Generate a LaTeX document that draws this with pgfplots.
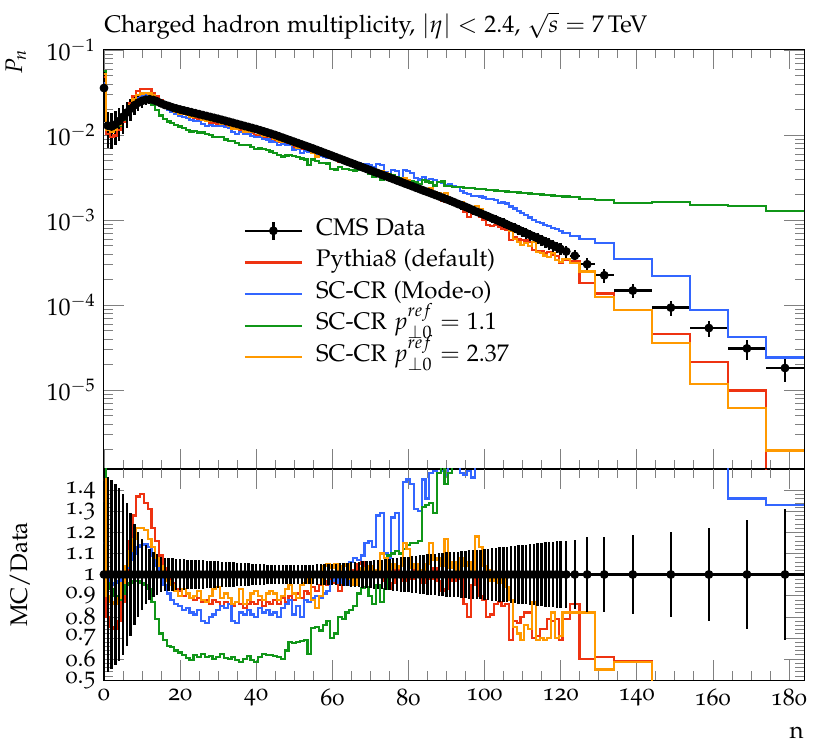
\documentclass[border=0pt,12pt]{standalone}
\usepackage[T1]{fontenc}
\usepackage[osf]{mathpazo}
\usepackage{pgfplots}
\usepackage{pgfplotstable}
\pgfplotsset{compat=1.18}

\definecolor{cred}{HTML}{EE3311}
\definecolor{cblue}{HTML}{3366FF}
\definecolor{cgreen}{HTML}{109618}
\definecolor{corange}{HTML}{FF9900}

% lo hi: bin edges, d: data P_n, e: relative data error,
% rr rb rg ro: MC/Data for Pythia8, Mode-0, pT0=1.1, pT0=2.37
\pgfplotstableread{
lo hi d e rr rb rg ro
-0.5 0.5 3.57e-2 0.60 1.35 1.15 1.60 1.45
0.5 1.5 1.29e-2 0.46 0.80 0.98 0.96 0.90
1.5 2.5 1.26e-2 0.45 0.75 0.95 0.93 0.87
2.5 3.5 1.33e-2 0.43 0.74 0.96 0.90 0.86
3.5 4.5 1.46e-2 0.41 0.78 0.97 0.88 0.89
4.5 5.5 1.64e-2 0.38 0.87 0.99 0.91 0.96
5.5 6.5 1.84e-2 0.34 1.00 1.03 0.95 1.04
6.5 7.5 2.04e-2 0.29 1.16 1.07 0.96 1.11
7.5 8.5 2.24e-2 0.24 1.28 1.10 0.97 1.17
8.5 9.5 2.40e-2 0.20 1.37 1.13 0.97 1.22
9.5 10.5 2.52e-2 0.17 1.38 1.14 0.96 1.22
10.5 11.5 2.60e-2 0.14 1.34 1.145 0.95 1.21
11.5 12.5 2.63e-2 0.12 1.31 1.13 0.93 1.17
12.5 13.5 2.58e-2 0.105 1.22 1.09 0.87 1.13
13.5 14.5 2.48e-2 0.095 1.16 1.04 0.79 1.08
14.5 15.5 2.36e-2 0.085 1.09 0.99 0.72 1.04
15.5 16.5 2.26e-2 0.080 1.03 0.95 0.69 1.00
16.5 17.5 2.19e-2 0.078 0.99 0.91 0.66 0.97
17.5 18.5 2.11e-2 0.076 0.96 0.88 0.655 0.95
18.5 19.5 2.05e-2 0.075 0.93 0.86 0.64 0.92
19.5 20.5 1.995e-2 0.074 0.92 0.85 0.63 0.90
20.5 21.5 1.945e-2 0.073 0.90 0.83 0.62 0.93
21.5 22.5 1.897e-2 0.071 0.91 0.84 0.605 0.91
22.5 23.5 1.849e-2 0.070 0.89 0.82 0.595 0.89
23.5 24.5 1.803e-2 0.069 0.88 0.81 0.62 0.90
24.5 25.5 1.758e-2 0.068 0.89 0.83 0.61 0.92
25.5 26.5 1.714e-2 0.067 0.87 0.78 0.625 0.88
26.5 27.5 1.671e-2 0.065 0.88 0.77 0.61 0.87
27.5 28.5 1.629e-2 0.064 0.86 0.80 0.615 0.90
28.5 29.5 1.589e-2 0.063 0.88 0.81 0.60 0.93
29.5 30.5 1.549e-2 0.062 0.87 0.83 0.61 0.94
30.5 31.5 1.507e-2 0.061 0.85 0.85 0.625 0.89
31.5 32.5 1.466e-2 0.059 0.87 0.84 0.605 0.91
32.5 33.5 1.426e-2 0.058 0.86 0.86 0.60 0.89
33.5 34.5 1.387e-2 0.057 0.85 0.78 0.61 0.86
34.5 35.5 1.349e-2 0.056 0.87 0.77 0.595 0.87
35.5 36.5 1.312e-2 0.055 0.86 0.82 0.585 0.93
36.5 37.5 1.276e-2 0.054 0.84 0.81 0.60 0.86
37.5 38.5 1.242e-2 0.053 0.86 0.83 0.615 0.88
38.5 39.5 1.208e-2 0.051 0.87 0.81 0.595 0.91
39.5 40.5 1.175e-2 0.050 0.86 0.80 0.585 0.92
40.5 41.5 1.138e-2 0.049 0.88 0.84 0.61 0.90
41.5 42.5 1.102e-2 0.048 0.85 0.82 0.625 0.88
42.5 43.5 1.067e-2 0.047 0.87 0.83 0.62 0.91
43.5 44.5 1.033e-2 0.046 0.86 0.81 0.62 0.92
44.5 45.5 1.000e-2 0.045 0.88 0.82 0.615 0.91
45.5 46.5 9.64e-3 0.045 0.86 0.80 0.61 0.88
46.5 47.5 9.29e-3 0.045 0.89 0.84 0.60 0.90
47.5 48.5 8.95e-3 0.045 0.87 0.86 0.64 0.93
48.5 49.5 8.63e-3 0.045 0.90 0.88 0.68 0.95
49.5 50.5 8.32e-3 0.045 0.88 0.81 0.675 0.91
50.5 51.5 8.02e-3 0.045 0.91 0.85 0.68 0.89
51.5 52.5 7.73e-3 0.046 0.89 0.80 0.685 0.95
52.5 53.5 7.45e-3 0.046 0.92 0.88 0.69 0.96
53.5 54.5 7.18e-3 0.047 0.91 0.87 0.625 0.98
54.5 55.5 6.92e-3 0.047 0.94 0.89 0.745 0.88
55.5 56.5 6.65e-3 0.048 0.92 0.90 0.75 0.84
56.5 57.5 6.40e-3 0.048 0.95 0.89 0.735 0.90
57.5 58.5 6.15e-3 0.049 0.97 0.91 0.76 1.04
58.5 59.5 5.92e-3 0.049 0.95 0.92 0.78 1.05
59.5 60.5 5.69e-3 0.050 0.98 0.97 0.70 1.03
60.5 61.5 5.47e-3 0.052 0.96 0.99 0.72 1.05
61.5 62.5 5.26e-3 0.053 0.92 0.96 0.80 1.02
62.5 63.5 5.06e-3 0.055 0.99 1.00 0.79 1.04
63.5 64.5 4.86e-3 0.056 1.01 0.95 0.82 1.05
64.5 65.5 4.68e-3 0.058 0.98 1.06 0.83 0.98
65.5 66.5 4.50e-3 0.059 1.02 1.08 0.85 0.95
66.5 67.5 4.33e-3 0.061 1.05 1.07 0.91 0.99
67.5 68.5 4.16e-3 0.062 1.06 1.09 0.935 1.03
68.5 69.5 4.00e-3 0.064 1.00 1.15 0.94 1.01
69.5 70.5 3.85e-3 0.065 1.03 1.16 0.90 1.04
70.5 71.5 3.70e-3 0.067 0.99 1.13 0.86 1.02
71.5 72.5 3.56e-3 0.069 1.02 1.28 0.95 1.00
72.5 73.5 3.42e-3 0.071 1.01 1.29 0.87 1.10
73.5 74.5 3.29e-3 0.073 0.97 1.10 0.93 1.08
74.5 75.5 3.16e-3 0.075 0.93 1.08 1.09 1.02
75.5 76.5 3.04e-3 0.077 0.96 1.27 1.10 1.05
76.5 77.5 2.92e-3 0.079 1.02 1.29 1.11 1.03
77.5 78.5 2.81e-3 0.081 1.00 1.10 1.10 1.04
78.5 79.5 2.70e-3 0.083 0.97 1.44 1.12 1.15
79.5 80.5 2.60e-3 0.085 1.01 1.45 1.14 1.12
80.5 81.5 2.50e-3 0.087 0.98 1.43 1.15 1.03
81.5 82.5 2.40e-3 0.089 1.03 1.31 1.15 1.05
82.5 83.5 2.31e-3 0.091 0.99 1.30 1.16 0.99
83.5 84.5 2.22e-3 0.093 0.96 1.45 1.32 1.02
84.5 85.5 2.14e-3 0.095 1.01 1.36 1.33 1.05
85.5 86.5 2.06e-3 0.097 0.98 1.48 1.34 1.15
86.5 87.5 1.98e-3 0.099 1.03 1.49 1.29 1.07
87.5 88.5 1.905e-3 0.101 0.97 1.48 1.48 1.08
88.5 89.5 1.83e-3 0.103 0.92 1.49 1.55 1.04
89.5 90.5 1.76e-3 0.105 0.93 1.47 1.43 1.17
90.5 91.5 1.69e-3 0.106 1.00 1.56 1.48 1.03
91.5 92.5 1.62e-3 0.108 0.97 1.53 1.52 1.06
92.5 93.5 1.55e-3 0.109 1.02 1.57 1.57 1.01
93.5 94.5 1.49e-3 0.111 0.98 1.48 1.63 1.08
94.5 95.5 1.43e-3 0.112 0.86 1.47 1.68 1.04
95.5 96.5 1.37e-3 0.114 0.80 1.49 1.74 1.06
96.5 97.5 1.31e-3 0.115 0.95 1.46 1.80 0.99
97.5 98.5 1.25e-3 0.117 0.99 1.55 1.86 1.18
98.5 99.5 1.20e-3 0.118 0.90 1.58 1.93 1.13
99.5 100.5 1.148e-3 0.120 0.88 1.60 2.00 1.04
100.5 101.5 1.10e-3 0.122 0.80 1.62 2.07 1.02
101.5 102.5 1.05e-3 0.124 0.81 1.68 2.14 0.97
102.5 103.5 1.007e-3 0.126 0.86 1.70 2.21 1.00
103.5 104.5 9.64e-4 0.128 0.87 1.66 2.29 0.96
104.5 105.5 9.23e-4 0.130 0.85 1.74 2.37 0.98
105.5 106.5 8.81e-4 0.132 0.86 1.78 2.46 0.94
106.5 107.5 8.41e-4 0.134 0.69 1.72 2.55 0.88
107.5 108.5 8.04e-4 0.136 0.78 1.70 2.65 0.75
108.5 109.5 7.67e-4 0.138 0.77 1.66 2.75 0.72
109.5 110.5 7.33e-4 0.140 0.80 1.64 2.85 0.69
110.5 111.5 7.00e-4 0.142 0.82 1.62 2.96 0.76
111.5 112.5 6.68e-4 0.144 0.82 1.60 3.07 0.74
112.5 113.5 6.38e-4 0.146 0.70 1.58 3.18 0.87
113.5 114.5 6.10e-4 0.148 0.71 1.56 3.30 0.69
114.5 115.5 5.82e-4 0.150 0.74 1.60 3.43 0.70
115.5 116.5 5.55e-4 0.152 0.74 1.58 3.56 0.69
116.5 117.5 5.28e-4 0.154 0.79 1.62 3.71 0.70
117.5 118.5 5.04e-4 0.156 0.78 1.60 3.85 0.82
118.5 119.5 4.80e-4 0.158 0.79 1.64 4.01 0.70
119.5 120.5 4.57e-4 0.160 0.69 1.62 4.17 0.71
120.5 122.5 4.27e-4 0.160 0.79 1.65 4.42 0.82
122.5 125 3.80e-4 0.165 0.86 1.70 4.90 0.82
125 129 3.02e-4 0.180 0.60 2.00 5.89 0.82
129 134 2.24e-4 0.180 0.61 2.40 7.67 0.55
134 144 1.48e-4 0.185 0.59 2.35 10.8 0.585
144 154 9.33e-5 0.200 0.49 2.37 17.4 0.38
154 164 5.37e-5 0.220 0.40 1.62 28.2 0.22
164 174 3.09e-5 0.260 0.32 1.36 47.3 0.20
174 184 1.82e-5 0.310 0.0001 1.33 70.2 0.107
184 184 1.82e-5 0.310 0.0001 1.33 70.2 0.107
}\mult

\pgfplotsset{
  rivet/.style={
    width=350pt, scale only axis,
    xmin=0, xmax=184,
    tick align=inside,
    major tick length=10pt, minor tick length=4.5pt,
    xtick={0,20,...,180}, minor x tick num=3,
    axis line style={line width=0.5pt},
  },
  mc/.style={const plot mark left, mark=none, line width=1.1pt,
    legend image code/.code={\draw[##1, line width=1.1pt] (0pt,0pt) -- (28.5pt,0pt);}},
  data/.style={black, mark=*, mark size=2pt, only marks,
    skip coords between index={130}{131},
    error bars/x dir=both, error bars/x explicit,
    error bars/y dir=both, error bars/y explicit,
    error bars/error mark=none,
    error bars/error bar style={line width=1.2pt, black}},
}

\begin{document}
\begin{tikzpicture}
\useasboundingbox (-52pt,-35pt) rectangle (363pt,340pt);

\begin{axis}[rivet,
  at={(0,105.5pt)}, anchor=south west, height=210pt,
  ymode=log, ymin=1.18e-6, ymax=0.1027,
  xticklabels={},
  title={Charged hadron multiplicity, $|\eta| < 2.4$, $\sqrt{s} = 7$\,TeV},
  title style={at={(0,1)}, anchor=base west, inner sep=0pt, yshift=2.35pt},
  ylabel={$P_n$},
  ylabel style={at={(axis description cs:-0.126,1)}, anchor=east, inner sep=0pt},
  legend cell align=left,
  legend style={draw=none, fill=none, at={(0.199,0.6057)}, anchor=north west,
    inner sep=0pt, column sep=6.5pt, row sep=0pt,
    nodes={inner sep=0pt, text height=10pt, text depth=5.8pt}},
]
\addplot[data,
  legend image code/.code={
    \draw[black, line width=1.2pt] (0pt,0pt) -- (28.5pt,0pt);
    \draw[black, line width=1.2pt] (14.25pt,-4.5pt) -- (14.25pt,4.5pt);
    \fill[black] (14.25pt,0pt) circle (2pt);}]
  table[x expr={0.5*(\thisrow{lo}+\thisrow{hi})}, y=d,
        x error expr={0.5*(\thisrow{hi}-\thisrow{lo})},
        y error expr={\thisrow{d}*\thisrow{e}}] {\mult};
\addlegendentry{CMS Data}
\addplot[mc, cred] table[x=lo, y expr={\thisrow{d}*\thisrow{rr}}] {\mult};
\addlegendentry{Pythia8 (default)}
\addplot[mc, cblue] table[x=lo, y expr={\thisrow{d}*\thisrow{rb}}] {\mult};
\addlegendentry{SC-CR (Mode-0)}
\addplot[mc, cgreen] table[x=lo, y expr={\thisrow{d}*\thisrow{rg}}] {\mult};
\addlegendentry{SC-CR $p_{\perp 0}^{ref} = 1.1$}
\addplot[mc, corange] table[x=lo, y expr={\thisrow{d}*\thisrow{ro}}] {\mult};
\addlegendentry{SC-CR $p_{\perp 0}^{ref} = 2.37$}
\end{axis}

\begin{axis}[rivet,
  at={(0,0)}, anchor=south west, height=105.5pt,
  ymin=0.5, ymax=1.5,
  ytick={0.5,0.6,0.7,0.8,0.9,1,1.1,1.2,1.3,1.4}, minor y tick num=4,
  /pgf/number format/fixed,
  /pgf/number format/assume math mode=true,
  xlabel={n},
  xlabel style={at={(axis description cs:1,0)}, anchor=base east, inner sep=0pt, yshift=-29pt},
  ylabel={MC/Data},
  ylabel style={at={(axis description cs:-0.12,0.5)}, anchor=center},
]
\addplot[mc, cred] table[x=lo, y=rr] {\mult};
\addplot[mc, cblue] table[x=lo, y=rb] {\mult};
\addplot[mc, cgreen] table[x=lo, y=rg] {\mult};
\addplot[mc, corange] table[x=lo, y=ro] {\mult};
\addplot[data]
  table[x expr={0.5*(\thisrow{lo}+\thisrow{hi})}, y expr=1,
        x error expr={0.5*(\thisrow{hi}-\thisrow{lo})},
        y error expr={\thisrow{e}}] {\mult};
\end{axis}
\end{tikzpicture}
\end{document}
